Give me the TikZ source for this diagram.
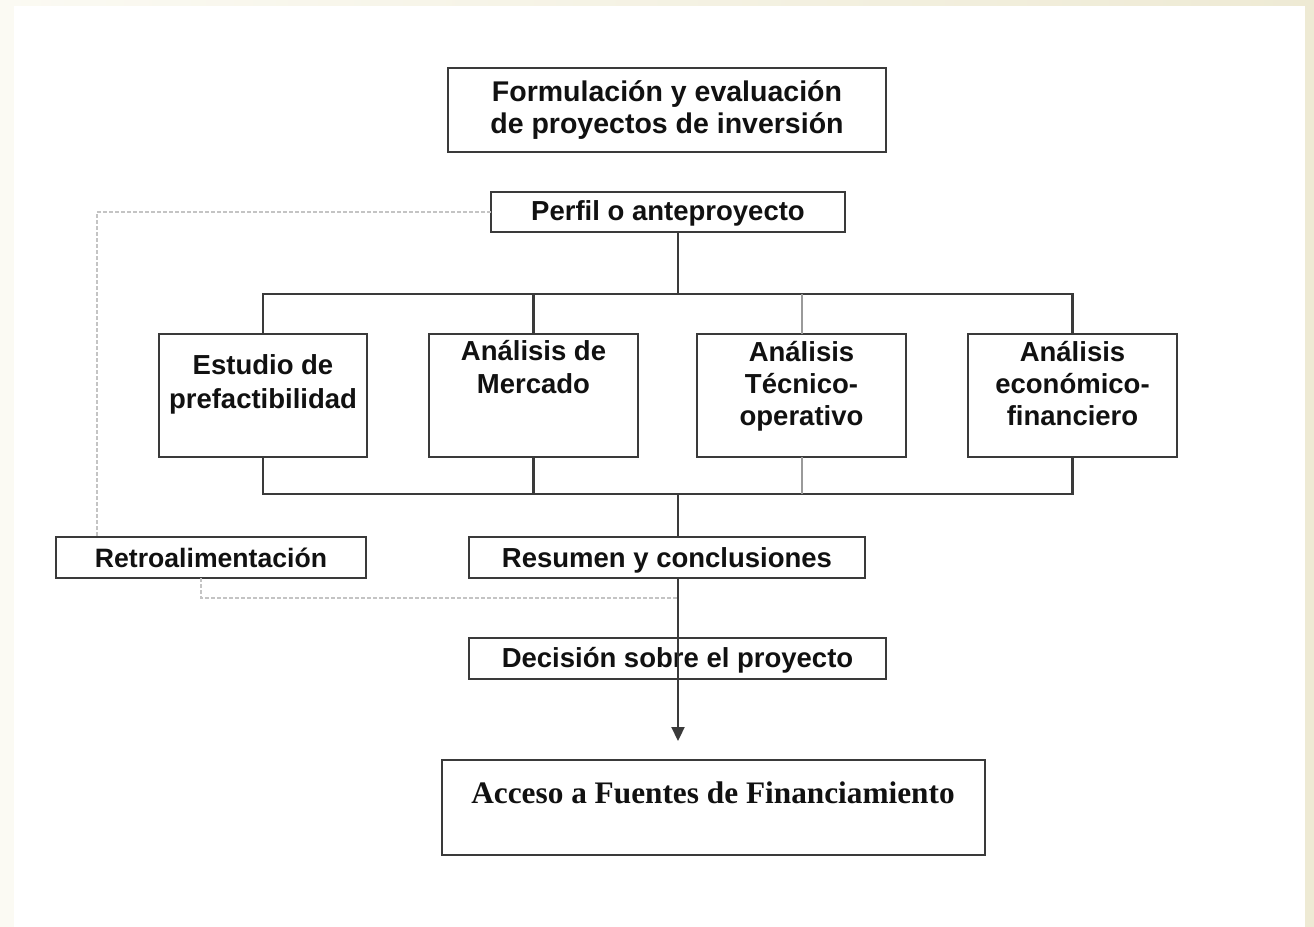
\documentclass[tikz,border=0pt]{standalone}
\usepackage{fontspec}
\setmainfont{Liberation Sans}
\newfontfamily\serifface{Liberation Serif}
\usetikzlibrary{arrows.meta}
\definecolor{edge}{HTML}{3A3A3A}
\definecolor{beigeL}{HTML}{FBFAF3}
\definecolor{beigeR}{HTML}{EEEAD4}
\definecolor{fbgray}{HTML}{C4C4C4}
\definecolor{lightedge}{HTML}{9A9A9A}
\definecolor{ink}{HTML}{111111}
\begin{document}
\begin{tikzpicture}[x=1pt,y=-1pt,
  box/.style={draw=edge,line width=2.2pt,inner sep=0pt,outer sep=0pt},
  txt/.style={font=\fontsize{27.5}{33}\selectfont\bfseries,text=ink,align=center,inner sep=0pt,anchor=base},
  conn/.style={draw=edge,line width=2.2pt},
  lightconn/.style={draw=lightedge,line width=2pt},
  fbline/.style={draw=fbgray,line width=1.5pt,dash pattern=on 4pt off 2pt}]
\useasboundingbox (0,0) rectangle (1314,926);
\shade[left color=beigeL,right color=beigeR] (0,0) rectangle (1314,926);
\fill[white] (14,6) rectangle (1305,927);

% boxes
\node[box,minimum width=438pt,minimum height=84pt] (title) at (667,110) {};
\node[box,minimum width=354pt,minimum height=40pt] (perfil) at (668,212) {};
\node[box,minimum width=208pt,minimum height=123pt] (b1) at (263,395.5) {};
\node[box,minimum width=209pt,minimum height=123pt] (b2) at (533.5,395.5) {};
\node[box,minimum width=209pt,minimum height=123pt] (b3) at (801.5,395.5) {};
\node[box,minimum width=209pt,minimum height=123pt] (b4) at (1072.5,395.5) {};
\node[box,minimum width=310pt,minimum height=41pt] (retro) at (211,557.5) {};
\node[box,minimum width=396pt,minimum height=41pt] (resumen) at (667,557.5) {};
\node[box,minimum width=417pt,minimum height=41pt] (decision) at (677.5,658.5) {};
\node[box,minimum width=543pt,minimum height=95pt] (acceso) at (713.5,807.5) {};

% texts (base = baseline of the last line)
\node[txt,font=\fontsize{28.5}{32}\selectfont\bfseries] (titleT) at (667,133) {Formulación y evaluación\\de proyectos de inversión};
\node[txt] (perfilT) at (668,220) {Perfil o anteproyecto};
\node[txt,font=\fontsize{27.5}{34}\selectfont\bfseries] (b1T) at (263,408) {Estudio de\\prefactibilidad};
\node[txt] (b2T) at (533.5,393.5) {Análisis de\\Mercado};
\node[txt,font=\fontsize{27.5}{32}\selectfont\bfseries] (b3T) at (801.5,425) {Análisis\\Técnico-\\operativo};
\node[txt,font=\fontsize{27.5}{32}\selectfont\bfseries] (b4T) at (1072.5,425) {Análisis\\económico-\\financiero};
\node[txt,font=\fontsize{26.6}{32}\selectfont\bfseries] (retroT) at (211,567) {Retroalimentación};
\node[txt] (resumenT) at (667,567) {Resumen y conclusiones};
\node[txt] (decisionT) at (677.5,667) {Decisión sobre el proyecto};
\node[txt,font=\serifface\fontsize{31.3}{36}\selectfont\bfseries] (accesoT) at (713,803) {Acceso a Fuentes de Financiamiento};

% junction coordinates
\coordinate (tb) at (678,294);
\coordinate (bb) at (678,494);
\coordinate (arr) at (678,741);
\coordinate (fa) at (97,537);
\coordinate (fr) at (201,578);
\coordinate (fj) at (678,598);

% feedback (dashed)
\draw[fbline] (perfil.west) -| (fa);
\draw[fbline] (fr) |- (fj);

% connectors
\draw[conn] (perfil.south -| tb) -- (tb);
\draw[conn] (b1.north) -- (b1.north |- tb) -- (b4.north |- tb) -- (b4.north);
\draw[conn] (b2.north) -- (b2.north |- tb);
\draw[lightconn] (b3.north) -- (b3.north |- tb);
\draw[conn] (b1.south) -- (b1.south |- bb) -- (b4.south |- bb) -- (b4.south);
\draw[conn] (b2.south) -- (b2.south |- bb);
\draw[lightconn] (b3.south) -- (b3.south |- bb);
\draw[conn] (bb) -- (resumen.north -| bb);
\draw[conn,-{Triangle[width=13pt,length=14pt]}] (resumen.south -| bb) -- (arr);
\end{tikzpicture}
\end{document}
